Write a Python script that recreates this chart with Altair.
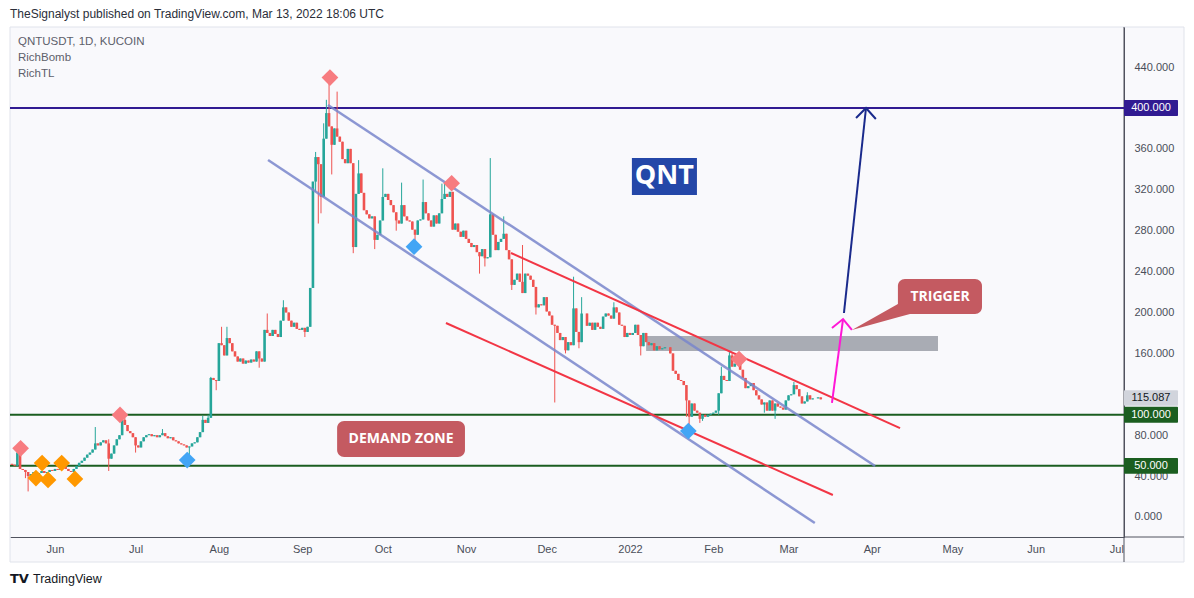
import altair as alt
import pandas as pd

FONT = "Liberation Sans"
BOLD_FONT = "Open Sans"

# ---------------- data ----------------
START_DATE = "2021-05-16"
FIRST_OPEN = 52.0
CLOSES = [
    51, 50, 63, 47, 46, 44, 40, 42, 44, 41,
    43, 45, 43, 44, 46, 45, 47, 46, 48, 49,
    47, 45, 44, 47, 50, 53, 55, 58, 61, 63,
    66, 72, 70, 73, 75, 72, 57, 62, 70, 76,
    80, 95, 90, 84, 82, 78, 70, 68, 74, 78,
    80, 81, 79, 80, 78, 80, 82, 79, 77, 78,
    75, 74, 72, 71, 70, 68, 69, 72, 73, 78,
    83, 95, 92, 97, 136, 134, 133, 170, 168, 158,
    175, 170, 162, 157, 152, 155, 150, 153, 151, 154,
    152, 162, 155, 152, 183, 180, 177, 183, 179, 176,
    192, 205, 200, 192, 186, 190, 184, 183, 185, 181,
    186, 224, 328, 352, 345, 313, 370, 395, 382, 364,
    380, 372, 367, 350, 346, 360, 346, 264, 316, 336,
    317, 300, 296, 292, 294, 271, 276, 290, 313, 316,
    310, 305, 298, 290, 287, 305, 294, 290, 289, 281,
    276, 290, 291, 308, 297, 290, 284, 295, 287, 297,
    311, 316, 313, 318, 281, 287, 279, 274, 280, 272,
    268, 264, 266, 259, 255, 262, 253, 254, 296, 276,
    261, 269, 272, 277, 261, 252, 227, 232, 238, 230,
    219, 238, 236, 232, 225, 205, 208, 207, 215, 201,
    197, 188, 187, 180, 173, 176, 163, 171, 168, 204,
    181, 171, 199, 199, 187, 190, 183, 190, 186, 184,
    196, 199, 197, 194, 205, 200, 188, 187, 176, 180,
    178, 180, 188, 178, 167, 180, 171, 168, 170, 163,
    167, 164, 165, 166, 166, 160, 143, 140, 134, 133,
    129, 114, 98, 111, 104, 102, 96, 100, 98, 100,
    101, 102, 104, 121, 138, 134, 133, 158, 147, 150,
    158, 144, 136, 126, 128, 131, 124, 119, 115, 110,
    112, 104, 114, 104, 111, 108, 107, 105, 114, 119,
    120, 129, 125, 118, 111, 113, 119, 115, 116, 116,
    117, 115.087,
]
HIGH_WICKS = {2: 66, 31: 88, 36: 76, 41: 100, 42: 97, 56: 86, 71: 99, 73: 100,
              74: 137, 78: 186, 80: 186, 95: 199, 101: 212, 113: 357, 116: 385,
              117: 408, 118: 427, 121: 416, 123: 360, 129: 349, 138: 341, 145: 327,
              153: 330, 160: 326, 161: 327, 178: 351, 183: 294, 190: 266, 209: 235,
              212: 215, 224: 210, 264: 147, 267: 162, 268: 160, 291: 132, 296: 122}
LOW_WICKS = {5: 38, 6: 25, 9: 36, 36: 45, 46: 63, 66: 60, 76: 124, 92: 146,
             109: 176, 113: 318, 114: 287, 115: 297, 119: 335, 127: 258, 135: 262,
             143: 280, 150: 264, 174: 238, 176: 245, 186: 222, 195: 198, 202: 112,
             206: 160, 211: 165, 234: 158, 251: 98, 252: 88, 256: 92, 257: 94,
             263: 100, 280: 102, 284: 96}

PRICE_TICKS = [0, 40, 80, 160, 200, 240, 280, 320, 360, 440]
MONTH_TICKS = [(2021, 6), (2021, 7), (2021, 8), (2021, 9), (2021, 10), (2021, 11),
               (2021, 12), (2022, 1), (2022, 2), (2022, 3), (2022, 4), (2022, 5),
               (2022, 6), (2022, 7)]

LEVEL_PRICES = [400, 100, 50]
LEVEL_COLORS = ["#311b92", "#1b5e20", "#1b5e20"]
LEVEL_LABELS = ["400.000", "100.000", "50.000"]
LAST_PRICE = 115.087

BLUE_CHANNEL = [
    ("upper", "2021-09-10T14:00:00", 402.9), ("upper", "2022-04-02T05:00:00", 49.9),
    ("lower", "2021-08-19T07:00:00", 349.1), ("lower", "2022-03-10T19:00:00", -5.9),
]
RED_CHANNEL = [
    ("upper", "2021-11-17T17:00:00", 258.2), ("upper", "2022-04-11T12:00:00", 87.0),
    ("lower", "2021-10-24T12:00:00", 189.7), ("lower", "2022-03-17T12:00:00", 21.5),
]
ZONE = {"d1": "2022-01-07T00:00:00", "d2": "2022-04-25T15:00:00", "p1": 177.0, "p2": 162.3}

MAGENTA_ARROW = [
    ("shaft", 0, "2022-03-17T04:00:00", 111.5), ("shaft", 1, "2022-03-21T07:00:00", 193.6),
    ("head", 0, "2022-03-17T04:00:00", 184.8), ("head", 1, "2022-03-21T07:00:00", 193.6),
    ("head", 2, "2022-03-24T14:00:00", 182.9),
]
NAVY_ARROW = [
    ("shaft", 0, "2022-03-21T15:00:00", 199.5), ("shaft", 1, "2022-03-29T20:00:00", 400.0),
    ("head", 0, "2022-03-26T03:00:00", 390.2), ("head", 1, "2022-03-29T20:00:00", 400.0),
    ("head", 2, "2022-04-02T12:00:00", 389.2),
]

RED_DIAMONDS = [("2021-05-19T05:00:00", 67.2), ("2021-06-25T05:00:00", 99.8),
                ("2021-09-11T08:00:00", 429.8), ("2021-10-26T15:00:00", 326.4),
                ("2022-02-10T14:00:00", 154.5)]
BLUE_DIAMONDS = [("2021-07-20T05:00:00", 55.7), ("2021-10-12T15:00:00", 264.4),
                 ("2022-01-22T17:00:00", 84.1)]
ORANGE_DIAMONDS = [("2021-05-27T05:00:00", 52.8), ("2021-06-03T12:00:00", 52.8),
                   ("2021-05-24T22:00:00", 38.1), ("2021-05-29T10:00:00", 36.2),
                   ("2021-06-08T10:00:00", 37.2)]

TRIGGER_BOX = {"d1": "2022-04-10T17:00:00", "d2": "2022-05-12T00:00:00", "p1": 232.8, "p2": 198.5,
               "td": "2022-04-26T10:00:00", "tp": 215.6}
TRIGGER_TAIL = [("2022-03-24T14:00:00", 182.9, 182.9), ("2022-04-10T17:00:00", 208.3, 195.3),
                ("2022-04-15T05:00:00", 208.3, 198.5)]
DEMAND_BOX = {"d1": "2021-09-14T00:00:00", "d2": "2021-10-31T14:00:00", "p1": 93.9, "p2": 58.7,
              "td": "2021-10-07T19:00:00", "tp": 76.3}
QNT_BOX = {"d1": "2022-01-01T17:00:00", "d2": "2022-01-25T22:00:00", "p1": 351.1, "p2": 314.9,
           "td": "2022-01-13T19:00:00", "tp": 333.0}

HEADER = "TheSignalyst published on TradingView.com, Mar 13, 2022 18:06 UTC"
LEGEND_LINES = ["QNTUSDT, 1D, KUCOIN", "RichBomb", "RichTL"]

# ---------------- build tables ----------------
dates = pd.date_range(START_DATE, periods=len(CLOSES), freq="D")
opens = [FIRST_OPEN] + CLOSES[:-1]
rows = []
for i, (d, o, c) in enumerate(zip(dates, opens, CLOSES)):
    hi = max(o, c, HIGH_WICKS.get(i, -1e9))
    lo = min(o, c, LOW_WICKS.get(i, 1e9))
    rows.append({"date": d.strftime("%Y-%m-%dT%H:%M:%S"), "open": o, "close": c,
                 "high": hi, "low": lo, "dir": "up" if c >= o else "down"})
candles = pd.DataFrame(rows)

W, H = 1114, 510
BG = "#f9f9fc"
AXIS_COL = "#50535e"
xscale = alt.Scale(domain=[alt.DateTime(year=2021, month=5, date=15, hours=6, minutes=14),
                           alt.DateTime(year=2022, month=7, date=3, hours=20, minutes=24)],
                   padding=0)
yscale = alt.Scale(domain=[-19.56, 479.2], nice=False, zero=False, padding=0)

xaxis = alt.Axis(values=[alt.DateTime(year=y, month=m, date=1) for y, m in MONTH_TICKS],
                 labelExpr="month(datum.value) == 0 ? timeFormat(datum.value, '%Y') : timeFormat(datum.value, '%b')",
                 ticks=False, grid=False, domainColor=AXIS_COL, labelPadding=6,
                 labelFont=FONT, labelFontSize=11, labelColor="#4a4e59", title=None,
                 labelFlush=False, labelOverlap=False)
yaxis = alt.Axis(orient="right", values=PRICE_TICKS, format=".3f", labelPadding=10,
                 ticks=False, grid=False, domainColor=AXIS_COL, labelColor="#4a4e59",
                 labelFont=FONT, labelFontSize=11, title=None, labelAlign="left")


def X(field="date"):
    return alt.X(f"{field}:T", scale=xscale, axis=xaxis)


def Y(field="price"):
    return alt.Y(f"{field}:Q", scale=yscale, axis=yaxis)


one = pd.DataFrame({"a": [0]})
layers = []

# white areas outside the chart frame (canvas background is the frame colour)
for x1, x2, y1, y2 in [(-2, W + 80, -19, 0), (-2, W + 80, H + 25, H + 60),
                       (W + 60, W + 80, -19, H + 60), (-2, 0, -19, H + 60)]:
    layers.append(alt.Chart(one).mark_rect(fill="white").encode(
        x=alt.value(x1), x2=alt.value(x2), y=alt.value(y1), y2=alt.value(y2)))
# frame border
layers.append(alt.Chart(one).mark_rect(fillOpacity=0, stroke="#e0e3eb", strokeWidth=1).encode(
    x=alt.value(0), x2=alt.value(W + 60), y=alt.value(0), y2=alt.value(H + 25)))
# extended axis separators
layers.append(alt.Chart(one).mark_rule(color=AXIS_COL, strokeWidth=1).encode(
    x=alt.value(W), x2=alt.value(W + 60), y=alt.value(H)))
layers.append(alt.Chart(one).mark_rule(color=AXIS_COL, strokeWidth=1).encode(
    x=alt.value(W), y=alt.value(0), y2=alt.value(H + 25)))

# resistance zone
zone_df = pd.DataFrame([ZONE])
layers.append(alt.Chart(zone_df).mark_rect(color="#9598a1", opacity=0.8).encode(
    x=X("d1"), x2="d2:T", y=Y("p1"), y2="p2:Q"))

# horizontal levels
lev_df = pd.DataFrame({"price": LEVEL_PRICES, "col": LEVEL_COLORS, "lab": LEVEL_LABELS})
layers.append(alt.Chart(lev_df).mark_rule(strokeWidth=2).encode(
    y=Y("price"), x=alt.value(0), x2=alt.value(W),
    color=alt.Color("col:N", scale=None)))

# candles
base = alt.Chart(candles)
col = alt.Color("dir:N", scale=alt.Scale(domain=["up", "down"], range=["#26a69a", "#ef5350"]), legend=None)
layers.append(base.mark_rule(strokeWidth=1).encode(x=X(), y=Y("low"), y2="high:Q", color=col))
layers.append(base.mark_bar(size=2.6).encode(x=X(), y=Y("open"), y2="close:Q", color=col))

# channel lines
blue_df = pd.DataFrame(BLUE_CHANNEL, columns=["name", "date", "price"])
layers.append(alt.Chart(blue_df).mark_line(color="#7986cb", strokeWidth=2.5, opacity=0.85).encode(
    x=X(), y=Y(), detail="name:N"))
red_df = pd.DataFrame(RED_CHANNEL, columns=["name", "date", "price"])
layers.append(alt.Chart(red_df).mark_line(color="#f23645", strokeWidth=2).encode(
    x=X(), y=Y(), detail="name:N"))

# diamonds
for pts, colr in [(RED_DIAMONDS, "#f77c80"), (BLUE_DIAMONDS, "#42a5f5"), (ORANGE_DIAMONDS, "#ff9800")]:
    ddf = pd.DataFrame(pts, columns=["date", "price"])
    layers.append(alt.Chart(ddf).mark_point(shape="diamond", filled=True, size=280, color=colr, opacity=1).encode(
        x=X(), y=Y()))

# arrows
for pts, colr in [(MAGENTA_ARROW, "#ff18d6"), (NAVY_ARROW, "#1a2a8c")]:
    adf = pd.DataFrame(pts, columns=["part", "o", "date", "price"])
    layers.append(alt.Chart(adf).mark_line(color=colr, strokeWidth=2).encode(
        x=X(), y=Y(), detail="part:N", order="o:Q"))

# callouts
tail_df = pd.DataFrame(TRIGGER_TAIL, columns=["date", "top", "bot"])
layers.append(alt.Chart(tail_df).mark_area(color="#c45a61").encode(x=X(), y=Y("top"), y2="bot:Q"))
for box, text, fsize, colr, rad in [(TRIGGER_BOX, "TRIGGER", 14, "#c45a61", 7),
                                    (DEMAND_BOX, "DEMAND ZONE", 14, "#c45a61", 7),
                                    (QNT_BOX, "QNT", 27, "#2447a8", 0)]:
    bdf = pd.DataFrame([box])
    layers.append(alt.Chart(bdf).mark_rect(color=colr, cornerRadius=rad).encode(
        x=X("d1"), x2="d2:T", y=Y("p1"), y2="p2:Q"))
    layers.append(alt.Chart(bdf).mark_text(text=text, font=BOLD_FONT, fontSize=fsize, fontWeight="bold",
                                           color="white", baseline="middle", align="center").encode(
        x=X("td"), y=Y("tp")))

# price badges
badge_df = lev_df.copy()
badge_df["p_top"] = badge_df["price"] + 7.8
badge_df["p_bot"] = badge_df["price"] - 7.8
layers.append(alt.Chart(badge_df).mark_rect(cornerRadius=1).encode(
    x=alt.value(W), x2=alt.value(W + 54), y=Y("p_top"), y2="p_bot:Q",
    color=alt.Color("col:N", scale=None)))
layers.append(alt.Chart(badge_df).mark_text(font=FONT, fontSize=11, color="white", align="center",
                                            baseline="middle").encode(
    x=alt.value(W + 27), y=Y("price"), text="lab:N"))
last_df = pd.DataFrame({"price": [LAST_PRICE], "lab": [f"{LAST_PRICE:.3f}"]})
last_df["p_top"] = last_df["price"] + 8.8
last_df["p_bot"] = last_df["price"] - 6.2
layers.append(alt.Chart(last_df).mark_rect(color="#d1d4dc", cornerRadius=1).encode(
    x=alt.value(W), x2=alt.value(W + 54), y=Y("p_top"), y2="p_bot:Q"))
layers.append(alt.Chart(last_df).mark_text(font=FONT, fontSize=11, color="#131722", align="center",
                                           baseline="middle", dy=-1).encode(
    x=alt.value(W + 27), y=Y("price"), text="lab:N"))

# header / legend / footer texts
layers.append(alt.Chart(one).mark_text(text=HEADER, font=FONT, fontSize=12, color="#2a2e39",
                                       align="left", baseline="middle").encode(
    x=alt.value(0), y=alt.value(-13)))
for i, t in enumerate(LEGEND_LINES):
    layers.append(alt.Chart(one).mark_text(text=t, font=FONT, fontSize=11.5, color="#5d606b",
                                           align="left", baseline="middle").encode(
        x=alt.value(8), y=alt.value(15 + 16 * i)))
layers.append(alt.Chart(one).mark_text(text="TV", font="DejaVu Sans", fontSize=13, fontWeight="bold",
                                       color="#131722", align="left", baseline="middle").encode(
    x=alt.value(0), y=alt.value(552)))
layers.append(alt.Chart(one).mark_text(text="TradingView", font=FONT, fontSize=12.5, color="#131722",
                                       align="left", baseline="middle").encode(
    x=alt.value(23), y=alt.value(552)))

chart = alt.layer(*layers).properties(
    width=W, height=H,
    padding={"left": 2, "top": 19, "right": 62, "bottom": 53},
    autosize=alt.AutoSizeParams(type="none"),
    background=BG,
).configure_view(stroke=None, fill=BG)

chart.save("out.html", embed_options={"renderer": "svg", "actions": False})
